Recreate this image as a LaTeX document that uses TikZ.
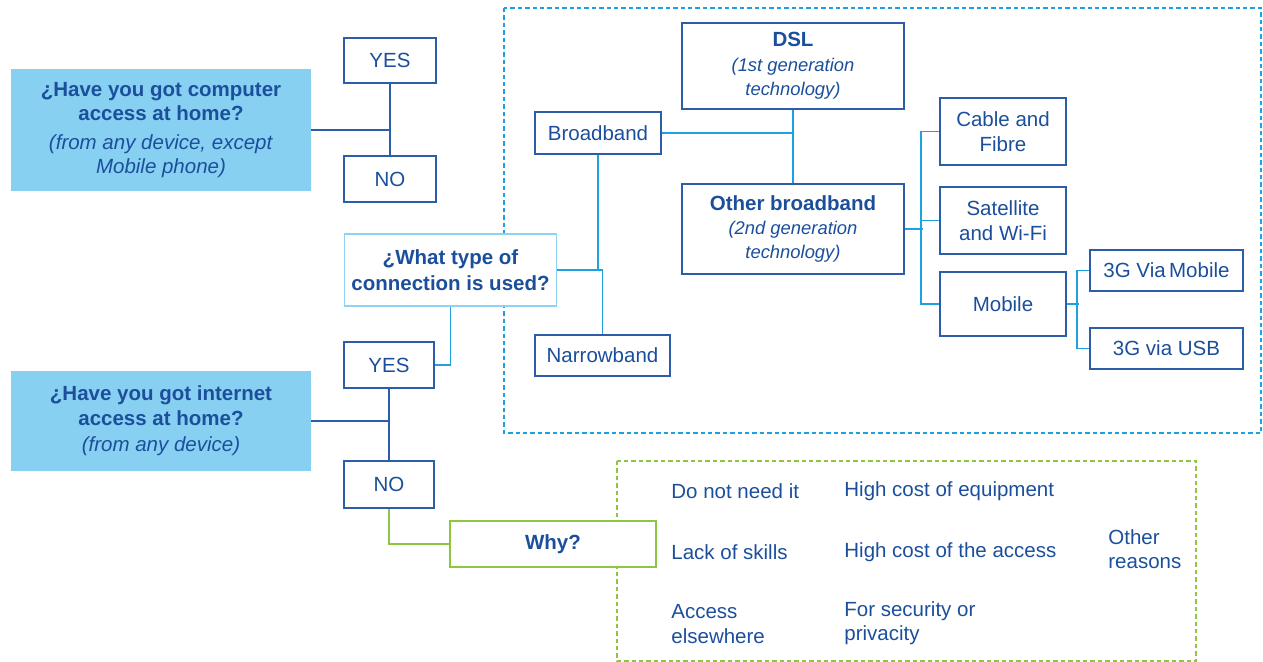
\documentclass[tikz,border=0pt]{standalone}
\usepackage{fontspec}
\setmainfont{Liberation Sans}
\usepackage{xcolor}
\definecolor{txtblue}{HTML}{1B4F9C}
\definecolor{boxblue}{HTML}{2C5DA9}
\definecolor{lineblue}{HTML}{1DA1E2}
\definecolor{fillblue}{HTML}{88D0F1}
\definecolor{paleblue}{HTML}{8DD4F4}
\definecolor{leafgreen}{HTML}{8DC63F}
\newcommand{\genfont}{\fontsize{9.2}{11.5}\selectfont\itshape}

\tikzset{
  every node/.style={text=txtblue, font=\fontsize{10.25}{12.2}\selectfont},
  answer/.style={draw=boxblue, fill=white, line width=0.75pt, inner sep=0pt, align=center},
  question/.style={fill=fillblue, inner sep=0pt, align=center},
  reason/.style={anchor=west, align=left, inner sep=0pt},
  darkline/.style={draw=boxblue, line width=0.9pt},
  lightline/.style={draw=lineblue, line width=0.9pt},
  greenline/.style={draw=leafgreen, line width=0.9pt},
}

\begin{document}
\begin{tikzpicture}[x=0.5pt, y=-0.5pt]
  \useasboundingbox (0,0) rectangle (1263,662);

  % dashed groups
  \draw[lineblue, line width=1pt, dash pattern=on 2.2pt off 1.5pt] (504,8) rectangle (1261,433);
  \draw[leafgreen, line width=1pt, dash pattern=on 2.2pt off 1.5pt] (617,461) rectangle (1196,661);

  % questions
  \node[question, minimum width=150pt, minimum height=61pt] (qcomp) at (161,130)
    {\textbf{¿Have you got computer}\\\textbf{access at home?}\\[2pt]
     \textit{(from any device, except}\\\textit{Mobile phone)}};
  \node[question, minimum width=150pt, minimum height=50pt] (qnet) at (161,421)
    {\textbf{¿Have you got internet}\\\textbf{access at home?}\\[1pt]
     \textit{(from any device)}};

  % yes / no answers
  \node[answer, minimum width=46pt, minimum height=22.5pt] (yes1) at (390,60.5) {YES};
  \node[answer, minimum width=46pt, minimum height=23pt] (no1) at (390,179) {NO};
  \node[answer, minimum width=45pt, minimum height=23pt] (yes2) at (389,365) {YES};
  \node[answer, minimum width=45pt, minimum height=23.5pt] (no2) at (389,484.5) {NO};

  % connection types
  \node[answer, draw=paleblue, minimum width=106pt, minimum height=36pt,
        font=\fontsize{10.25}{13}\selectfont\bfseries] (what) at (450.5,270)
    {¿What type of\\connection is used?};
  \node[answer, minimum width=63pt, minimum height=21pt] (broad) at (598,133) {Broadband};
  \node[answer, minimum width=67.5pt, minimum height=20.5pt] (narrow) at (602.5,355.5) {Narrowband};
  \node[answer, minimum width=111pt, minimum height=43pt] (dsl) at (793,66)
    {\textbf{DSL}\\{\genfont (1st generation}\\{\genfont technology)}};
  \node[answer, minimum width=111pt, minimum height=45pt] (other) at (793,229)
    {\textbf{Other broadband}\\{\genfont (2nd generation}\\{\genfont technology)}};
  \node[answer, minimum width=63pt, minimum height=33.5pt] (cable) at (1003,131.5) {Cable and\\Fibre};
  \node[answer, minimum width=63pt, minimum height=33.5pt] (sat) at (1003,220.5) {Satellite\\and Wi-Fi};
  \node[answer, minimum width=63pt, minimum height=32pt] (mobile) at (1003,304) {Mobile};
  \node[answer, minimum width=76.5pt, minimum height=20.5pt] (viamob) at (1166.5,270.5) {3G Via\,Mobile};
  \node[answer, minimum width=76.5pt, minimum height=20.5pt] (viausb) at (1166.5,348.5) {3G via USB};

  % reasons
  \node[answer, draw=leafgreen, minimum width=103pt, minimum height=23pt, font=\fontsize{10.25}{12}\selectfont\bfseries] (why) at (553,544) {Why?};
  \node[reason] (r1) at (671,491) {Do not need it};
  \node[reason] (r2) at (844,491) {High cost of equipment};
  \node[reason] (r3) at (671,552) {Lack of skills};
  \node[reason] (r4) at (844,552) {High cost of the access};
  \node[reason] (r5) at (671,624) {Access\\elsewhere};
  \node[reason] (r6) at (844,623) {For security or\\privacity};
  \node[reason] (r7) at (1108,549) {Other\\reasons};

  % connectors
  \draw[darkline] (qcomp.east) -- (qcomp.east -| yes1.south);
  \draw[darkline] (yes1.south) -- (no1.north);
  \draw[darkline] (qnet.east) -- (qnet.east -| yes2.south);
  \draw[darkline] (yes2.south) -- (no2.north);

  \draw[lightline] (yes2.east) -| (what.south);
  \draw[lightline] (what.east) -| (narrow.north);
  \draw[lightline] (broad.south) -- (broad.south |- what.east);
  \draw[lightline] (broad.east) -- (broad.east -| dsl.south);
  \draw[lightline] (dsl.south) -- (other.north);
  \draw[lightline] (other.east) -- ++(18,0);
  \draw[lightline] (cable.west) -- ++(-18,0) |- (mobile.west);
  \draw[lightline] (sat.west) -- ++(-18,0);
  \draw[lightline] (mobile.east) -- ++(12,0);
  \draw[lightline] (viamob.west) -- ++(-12,0) |- (viausb.west);

  \draw[greenline] (no2.south) |- (why.west);
\end{tikzpicture}
\end{document}
